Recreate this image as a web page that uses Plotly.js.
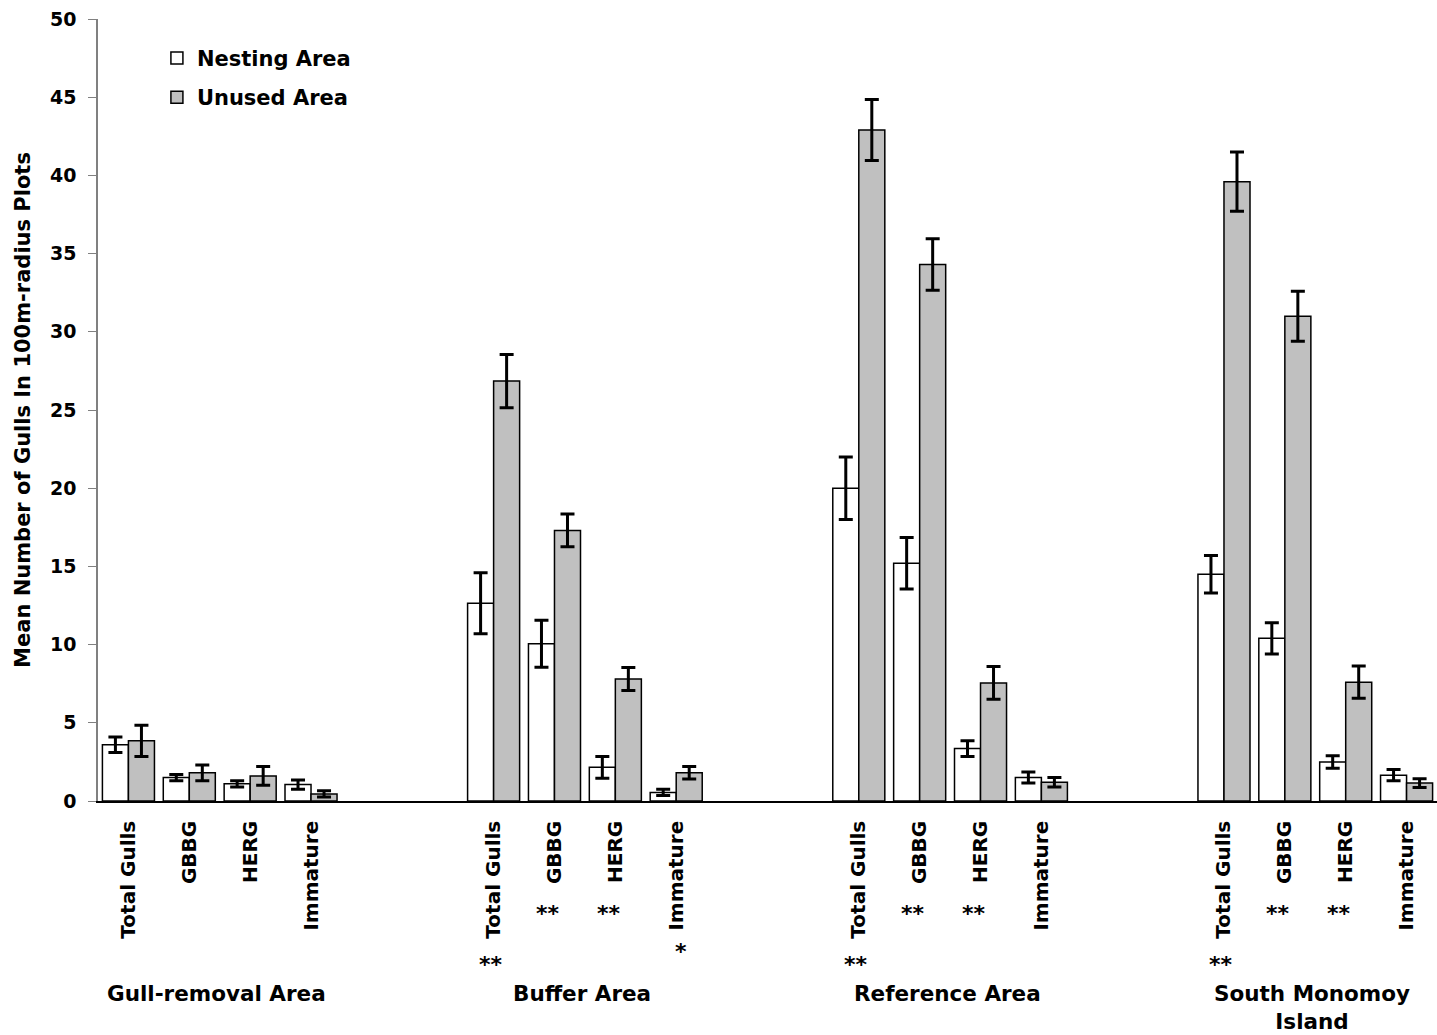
<!DOCTYPE html>
<html>
<head>
<meta charset="utf-8">
<script src="https://cdn.plot.ly/plotly-3.0.1.min.js"></script>
<style>html,body{margin:0;padding:0;background:#fff;}#chart{width:1437px;height:1035px;}</style>
</head>
<body>
<div id="chart"></div>
<script>
const groups = ["Gull-removal Area", "Buffer Area", "Reference Area", "South Monomoy<br>Island"];
const categories = ["Total Gulls", "GBBG", "HERG", "Immature"];
// values listed group by group, category by category
const nesting      = [3.6, 1.5, 1.1, 1.05,   12.65, 10.05, 2.15, 0.55,   20.0, 15.2, 3.35, 1.5,   14.5, 10.4, 2.5, 1.65];
const nestingErr   = [0.5, 0.2, 0.2, 0.3,    1.95, 1.5, 0.7, 0.2,      2.0, 1.65, 0.5, 0.35,    1.2, 1.0, 0.4, 0.36];
const unused       = [3.85, 1.8, 1.6, 0.45,  26.85, 17.3, 7.8, 1.8,    42.9, 34.3, 7.55, 1.2,   39.6, 31.0, 7.6, 1.15];
const unusedErr    = [1.0, 0.5, 0.6, 0.2,    1.7, 1.05, 0.73, 0.4,     1.95, 1.65, 1.05, 0.3,   1.9, 1.6, 1.03, 0.28];
const significance = ["", "", "", "",        "**", "**", "**", "*",    "**", "**", "**", "",    "**", "**", "**", ""];
const yTicks = ["0", "5", "10", "15", "20", "25", "30", "35", "40", "45", "50"];

const b = s => "<b>" + s + "</b>";
const xs = [], ticktext = [];
groups.forEach((g, gi) => categories.forEach((c, ci) => { xs.push(gi * 6 + ci); ticktext.push(b(c)); }));

const font = {family: "DejaVu Sans, Verdana, sans-serif", color: "#000"};
const errStyle = {type: "data", visible: true, color: "#000", thickness: 3, width: 7};

const traces = [
  {type: "bar", name: b("Nesting Area"), x: xs, y: nesting, legendgroup: "a",
   marker: {color: "#ffffff", line: {color: "#000", width: 1.5}},
   error_y: Object.assign({array: nestingErr}, errStyle)},
  {type: "bar", name: b("Unused Area"), x: xs, y: unused, legendgroup: "b",
   marker: {color: "#c0c0c0", line: {color: "#000", width: 1.5}},
   error_y: Object.assign({array: unusedErr}, errStyle)}
];

const annotations = [];
const pPix = py => (801 - py) / 782;
groups.forEach((g, gi) => {
  annotations.push({x: gi * 6 + 1.45, xref: "x", y: pPix(979), yref: "paper", text: b(g), showarrow: false,
    xanchor: "center", yanchor: "top", font: Object.assign({}, font, {size: 21.5})});
});
significance.forEach((s, i) => {
  if (!s) return;
  const ci = i % 4;
  let dx = 0, py = 913;
  if (ci === 0) { dx = -0.05; py = 979; }
  else if (ci === 3) { dx = 0.08; py = 966; }
  else { dx = -0.11; py = 928; }
  annotations.push({x: xs[i] + dx, xref: "x", y: pPix(py), yref: "paper", text: b(s), showarrow: false,
    xanchor: "center", yanchor: "bottom", font: Object.assign({}, font, {size: 22})});
});

const layout = {
  width: 1437, height: 1035,
  margin: {l: 98, r: 0, t: 19, b: 234, pad: 0},
  paper_bgcolor: "#fff", plot_bgcolor: "#fff",
  barmode: "group", bargap: 0.145, bargroupgap: 0,
  showlegend: true,
  legend: {x: 0.044, y: 0.976, xanchor: "left", yanchor: "top", bgcolor: "rgba(0,0,0,0)",
    font: Object.assign({}, font, {size: 21}), traceorder: "grouped", tracegroupgap: 9},
  xaxis: {range: [-0.5, 21.5], tickvals: xs, ticktext: ticktext, tickangle: -90,
    showline: true, linecolor: "#000", linewidth: 1.5, showgrid: false, zeroline: false,
    ticks: "", ticklabelstandoff: 10, tickfont: Object.assign({}, font, {size: 20})},
  yaxis: {range: [0, 50], showline: true, linecolor: "#808080", linewidth: 1.5,
    tickvals: yTicks.map(Number), ticktext: yTicks.map(b),
    ticks: "outside", ticklen: 8, tickcolor: "#808080", tickwidth: 1.2, ticklabelstandoff: 8,
    showgrid: false, zeroline: false,
    tickfont: Object.assign({}, font, {size: 19}),
    title: {text: b("Mean Number of Gulls In 100m-radius Plots"), font: Object.assign({}, font, {size: 21}), standoff: 14}},
  annotations: annotations
};

Plotly.newPlot("chart", traces, layout, {displayModeBar: false, responsive: false});
</script>
</body>
</html>
